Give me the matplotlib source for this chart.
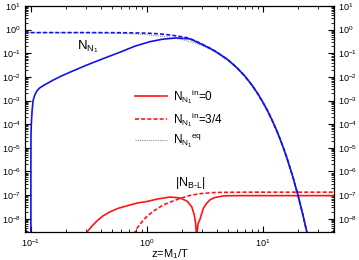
"""N1 abundance and |N_B-L| versus z = M1/T, for two initial N1 abundances."""

import matplotlib

matplotlib.use("Agg")
import matplotlib.pyplot as plt
from matplotlib.ticker import LogLocator, NullFormatter

plt.rcParams["font.family"] = ["Liberation Sans", "DejaVu Sans"]
plt.rcParams["mathtext.fontset"] = "custom"
plt.rcParams["mathtext.rm"] = "Liberation Sans"
plt.rcParams["mathtext.it"] = "Liberation Sans"
plt.rcParams["mathtext.bf"] = "Liberation Sans:bold"

# N_N1 with zero initial abundance
z_nn_zero = [0.1, 0.10002, 0.1002, 0.1007, 0.1014, 0.1026, 0.1045, 0.108, 0.113, 0.1196,
             0.132, 0.155, 0.1815, 0.217, 0.304, 0.418, 0.585, 0.788, 1.061, 1.373, 1.81,
             2.35, 3.0, 3.5, 4.0, 5.0, 6.0, 7.0, 8.0, 9.0, 10, 11, 12, 13, 14, 15, 16,
             18, 20, 22, 24]
nn_zero = [1e-12, 3e-6, 3e-5, 8e-5, 1.6e-4, 4e-4, 1.0e-3, 1.7e-3, 2.6e-3, 3.48e-3,
           4.68e-3, 7.24e-3, 1.07e-2, 1.58e-2, 3.19e-2, 5.9e-2, 0.111, 0.2, 0.31, 0.397,
           0.445, 0.404, 0.235, 0.16, 0.11, 0.052, 0.0235, 0.0105, 4.55e-3, 1.95e-3,
           8.2e-4, 3.44e-4, 1.42e-4, 5.85e-5, 2.38e-5, 9.6e-6, 3.86e-6, 6.15e-7, 9.6e-8,
           1.49e-8, 2.3e-9]

# N_N1 with thermal initial abundance 3/4
z_nn_therm = [0.088, 0.2, 0.3, 0.5, 0.7, 1.0, 1.3, 1.6, 1.9, 2.2, 2.6, 3.0, 3.5, 4.0,
              5.0, 6.0, 7.0, 8.0, 9.0, 10, 11, 12, 13, 14, 15, 16, 18, 20, 22, 24]
nn_therm = [0.75, 0.75, 0.75, 0.745, 0.735, 0.71, 0.66, 0.59, 0.52, 0.46, 0.34, 0.237,
            0.162, 0.111, 0.0522, 0.0236, 0.0105, 4.56e-3, 1.95e-3, 8.2e-4, 3.44e-4,
            1.42e-4, 5.85e-5, 2.38e-5, 9.6e-6, 3.86e-6, 6.15e-7, 9.6e-8, 1.49e-8, 2.3e-9]

# equilibrium abundance
z_eq = [0.088, 0.2, 0.3, 0.5, 0.7, 1.0, 1.5, 2.0, 2.5, 3.0, 3.5, 4.0, 5.0, 6.0, 7.0,
        8.0, 9.0, 10, 11, 12, 13, 14, 15, 16, 18, 20, 22, 24]
n_eq = [0.749, 0.743, 0.735, 0.708, 0.672, 0.609, 0.492, 0.381, 0.285, 0.208, 0.150,
        0.104, 0.0498, 0.0228, 0.0102, 4.45e-3, 1.91e-3, 8.06e-4, 3.37e-4, 1.39e-4,
        5.72e-5, 2.33e-5, 9.43e-6, 3.79e-6, 6.05e-7, 9.5e-8, 1.47e-8, 2.25e-9]

# |N_B-L| with zero initial N1
z_bl_zero = [0.295, 0.304, 0.336, 0.371, 0.418, 0.48, 0.563, 0.686, 0.836, 1.0, 1.244,
             1.579, 1.925, 2.21, 2.43, 2.55, 2.62, 2.66, 2.68, 2.70, 2.75, 2.86, 3.06,
             3.25, 3.49, 3.8, 4.5, 5.5, 7.0, 10, 41]
bl_zero = [2.2e-9, 2.75e-9, 4.9e-9, 8.1e-9, 1.32e-8, 1.95e-8, 2.75e-8, 3.63e-8,
           4.68e-8, 5.37e-8, 6.9e-8, 8.3e-8, 7.6e-8, 5.6e-8, 3.2e-8, 1.5e-8, 7e-9,
           2.5e-9, 1e-11, 2.5e-9, 6e-9, 9.5e-9, 2.8e-8, 4.4e-8, 6.3e-8, 7.8e-8, 9.2e-8,
           9.45e-8, 9.5e-8, 9.5e-8, 9.5e-8]

# |N_B-L| with thermal initial N1
z_bl_therm = [0.773, 0.788, 0.836, 0.888, 0.994, 1.127, 1.382, 1.642, 1.925, 2.346,
              2.862, 3.63, 4.69, 7.0, 41]
bl_therm = [2.2e-9, 2.75e-9, 4.5e-9, 6.6e-9, 1.23e-8, 2.04e-8, 3.85e-8, 5.4e-8, 7.2e-8,
            9.7e-8, 1.15e-7, 1.27e-7, 1.31e-7, 1.33e-7, 1.33e-7]

BLUE = "#1414e6"
RED = "#ff1414"
GREY = "#8c8c8c"

fig = plt.figure(figsize=(3.59, 2.60), dpi=100)
ax = fig.add_axes([25 / 359, 1 - 232 / 260, 309 / 359, 226 / 260])

ax.plot(z_eq, n_eq, color=GREY, lw=0.8, ls=(0, (1, 1)), zorder=1)
ax.plot(z_nn_therm, nn_therm, color=BLUE, lw=1.2, dashes=(2.4, 1.3), zorder=2)
ax.plot(z_nn_zero, nn_zero, color=BLUE, lw=1.2, zorder=3)
ax.plot(z_bl_zero, bl_zero, color=RED, lw=1.2, label=r"$N_{N_1}{}^{in}$=0")
ax.plot(z_bl_therm, bl_therm, color=RED, lw=1.2, dashes=(2.4, 1.3),
        label=r"$N_{N_1}{}^{in}$=3/4")
ax.plot([], [], color=GREY, lw=0.8, ls=(0, (1, 1)), label=r"$N_{N_1}{}^{eq}$")

ax.set_xscale("log")
ax.set_yscale("log")
ax.set_xlim(0.089, 40.8)
ax.set_ylim(2.75e-9, 10)

ax.set_xticks([0.1, 1, 10])
ax.set_yticks([1e-8, 1e-7, 1e-6, 1e-5, 1e-4, 1e-3, 1e-2, 1e-1, 1, 10])
ax.yaxis.set_minor_locator(LogLocator(base=10, subs=range(2, 10), numticks=20))
ax.yaxis.set_minor_formatter(NullFormatter())
ax.xaxis.set_minor_formatter(NullFormatter())
ax.tick_params(which="both", direction="in", top=True, right=True, labelright=True,
               labelsize=6.5, pad=3)
ax.tick_params(which="major", length=4, width=0.8)
ax.tick_params(which="minor", length=2, width=0.6)
ax.tick_params(axis="x", pad=4)
for sp in ax.spines.values():
    sp.set_linewidth(0.9)

ax.text(0.249, 0.19, r"$N_{N_1}$", fontsize=9.5, ha="left", va="center")
ax.text(1.74, 3.3e-7, r"$|N_{B\text{-}L}|$", fontsize=9, ha="left", va="center")
fig.text(170 / 359, 1 - 254 / 260, r"z=M$_1$/T", fontsize=8, ha="center", va="center")

ax.legend(loc="upper left", bbox_to_anchor=(135 / 359, 1 - 87 / 260),
          bbox_transform=fig.transFigure, frameon=False, fontsize=8.5,
          handlelength=2.7, handletextpad=0.5, labelspacing=0.35, borderpad=0,
          borderaxespad=0)

fig.savefig("out.png", dpi=100)
